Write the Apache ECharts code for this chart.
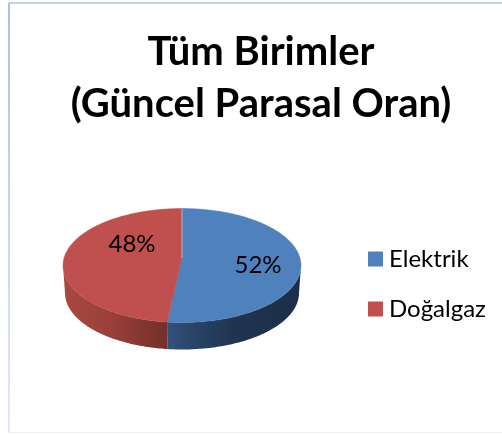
<!DOCTYPE html>
<html><head><meta charset="utf-8">
<style>html,body{margin:0;padding:0;background:#fff}#c{width:502px;height:434px}</style>
<script src="https://cdn.jsdelivr.net/npm/echarts@6/dist/echarts.min.js"></script>
</head><body><div id="c"></div>
<script>
const titleText = 'Tüm Birimler\n(Güncel Parasal Oran)';
const categories = ['Elektrik', 'Doğalgaz'];
const values = [52, 48];

const colors = ['#4f81bd', '#c0504d'];
const wallStops = [
  [[0,'#31527f'],[0.18,'#2a4568'],[0.5,'#1f3450'],[1,'#1c2f48']],
  [[0,'#a8493f'],[0.45,'#9a4039'],[0.85,'#7e342e'],[1,'#74302b']]
];
const labelOffset = [[76, 7], [-50, -14]];
const TOP = {cx:182, cy:265.5, rx:119, ry:57};
const BOT = {cx:182, cy:293, rx:117, ry:56.5};
const APEX = [182, 258];

const total = values.reduce((a,b)=>a+b,0);
function pt(e, deg){const t=deg*Math.PI/180;return [e.cx+e.rx*Math.sin(t), e.cy-e.ry*Math.cos(t)];}
function arc(e,a,b){const n=Math.max(2,Math.ceil(Math.abs(b-a)));const r=[];for(let i=0;i<=n;i++)r.push(pt(e,a+(b-a)*i/n));return r;}

function makeRender(idx){
  return function(params, api){
    const start = values.slice(0,idx).reduce((a,b)=>a+b,0)/total*360;
    const end = start + api.value(0)/total*360;
    const children = [];
    const a = Math.max(start,90), b = Math.min(end,270);
    if (b>a){
      children.push({type:'polygon',shape:{points:arc(TOP,a,b).concat(arc(BOT,b,a))},
        style:{fill:{type:'linear',x:0,y:0,x2:1,y2:0,colorStops:wallStops[idx].map(s=>({offset:s[0],color:s[1]}))}}});
    }
    children.push({type:'polygon',shape:{points:[APEX].concat(arc(TOP,start,end))},
      style:{fill:colors[idx],stroke:colors[idx],lineWidth:0.5}});
    if(idx===0){
      children.push({type:'line',shape:{x1:APEX[0],y1:APEX[1],x2:pt(TOP,0)[0],y2:pt(TOP,0)[1]},
        style:{stroke:'#a3bcdb',lineWidth:1},z2:5});
    }
    children.push({type:'text',z2:10,style:{x:APEX[0]+labelOffset[idx][0],y:APEX[1]+labelOffset[idx][1],
      text:api.value(0)+'%',align:'center',verticalAlign:'middle',fill:'#000',
      font:'24px Lato, "Open Sans", sans-serif'}});
    return {type:'group',children};
  };
}

const chart = echarts.init(document.getElementById('c'),null,{renderer:'canvas'});
chart.setOption({
  animation:false,
  backgroundColor:'#fff',
  title:{text:titleText,left:256,top:21,textAlign:'center',
    textStyle:{fontFamily:'Lato',fontWeight:'bold',fontSize:40,lineHeight:52,color:'#000'}},
  legend:{orient:'vertical',left:363,top:242,itemWidth:15,itemHeight:15,itemGap:26,icon:'rect',
    data:categories,textStyle:{fontFamily:'Lato',fontSize:24,color:'#000',padding:[0,0,0,1]}},
  graphic:[
    {type:'line',z:-1,shape:{x1:9,y1:3,x2:502,y2:3},style:{stroke:'#a9c1e6',lineWidth:1.5}},
    {type:'line',z:-1,shape:{x1:9,y1:3,x2:9,y2:432},style:{lineWidth:2,
      stroke:{type:'linear',x:0,y:0,x2:0,y2:1,global:false,colorStops:[{offset:0,color:'#a9c1e6'},{offset:1,color:'#e3e9f6'}]}}},
    {type:'line',z:-1,shape:{x1:9,y1:432.5,x2:502,y2:432.5},style:{stroke:'#eef0f8',lineWidth:1}}
  ],
  series:categories.map((name,i)=>({
    type:'custom',name,coordinateSystem:'none',renderItem:makeRender(i),
    itemStyle:{color:colors[i]},data:[[values[i]]],silent:true
  }))
});
</script></body></html>
